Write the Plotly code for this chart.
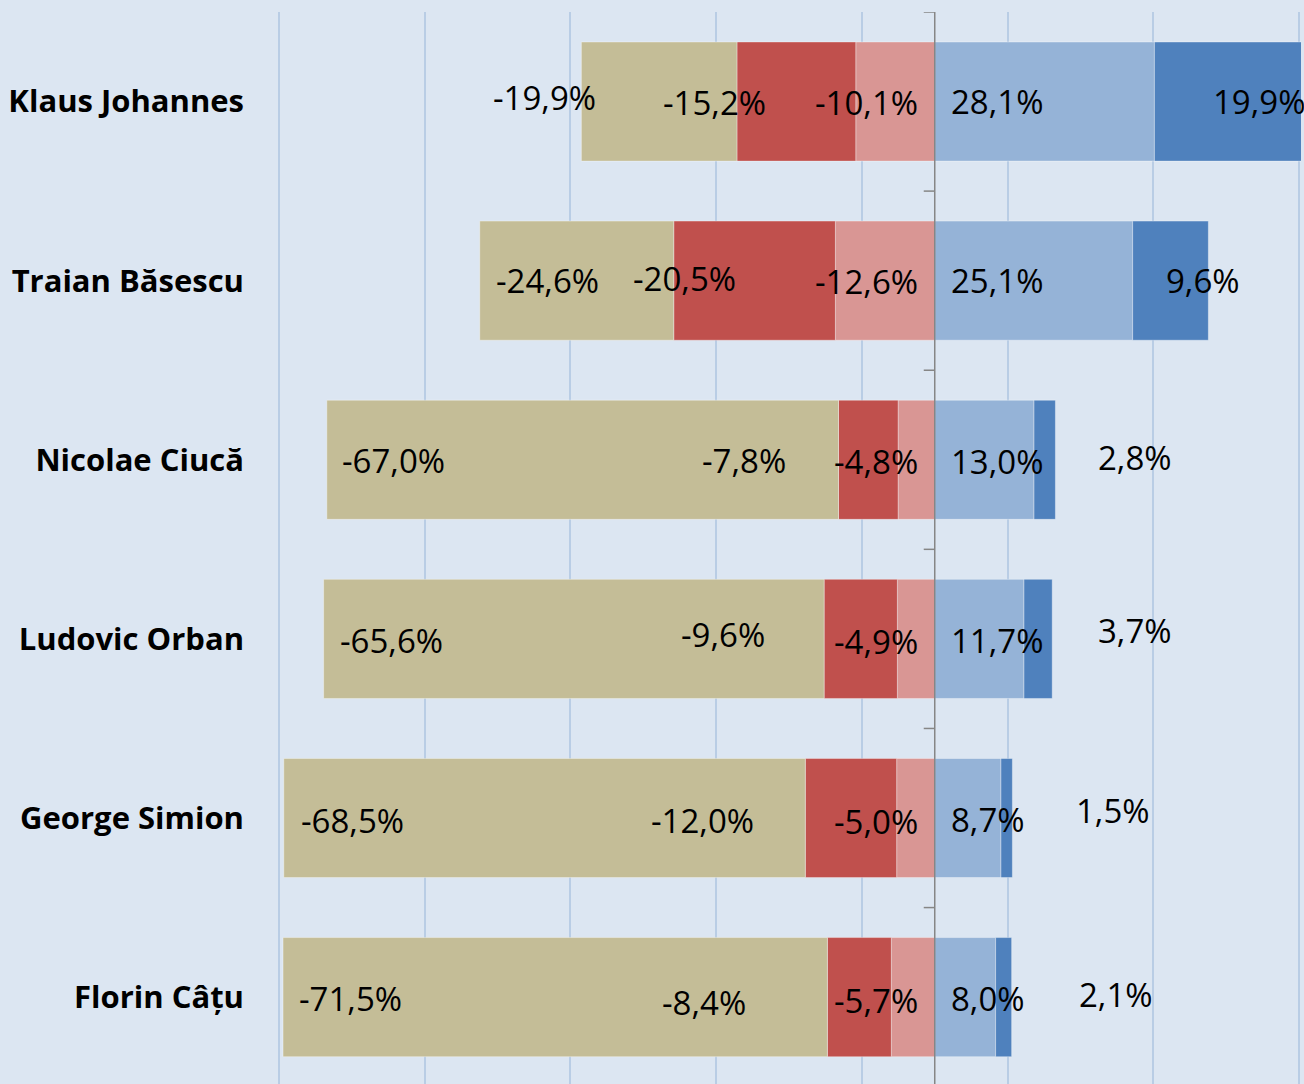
import plotly.graph_objects as go

# ---- data (values as printed on the chart, in %) ----
names = ["Klaus Johannes", "Traian Băsescu", "Nicolae Ciucă",
         "Ludovic Orban", "George Simion", "Florin Câțu"]
very_neg = [19.9, 24.6, 67.0, 65.6, 68.5, 71.5]     # tan
neg = [15.2, 20.5, 7.8, 9.6, 12.0, 8.4]             # red
slightly_neg = [10.1, 12.6, 4.8, 4.9, 5.0, 5.7]     # light red
slightly_pos = [28.1, 25.1, 13.0, 11.7, 8.7, 8.0]   # light blue
very_pos = [19.9, 9.6, 2.8, 3.7, 1.5, 2.1]          # dark blue

# ---- styles ----
BG = "#DCE6F2"
GRID = "#B9CDE5"
AXIS = "#868686"
C_TAN, C_RED, C_LRED, C_LBLUE, C_DBLUE = "#C4BD97", "#C0504D", "#D99694", "#95B3D7", "#4F81BD"
FONT = "Open Sans"
LBL_SIZE = 33

# label placement nudges (pixels) -- layout only
tan_dx = [-90, 14, 13, 14, 15, 14]
red_dx = [-76, -43, -139, -145, -156, -167]
dblue_dx = [57, 31, 62, 72, 73, 81]
tan_dy = [-4, 0, 1, 2, 2.5, 2]
red_dy = [1, -2, 1, -4, 2.5, 6]
lred_dy = [1, 1, 2.5, 3.5, 3.5, 3.5]
lblue_dy = [0.5, 0.5, 2, 2, 1.5, 1.5]
dblue_dy = [0.5, 0.5, -1.5, -7.5, -7.5, -2]

n = len(names)
totals = [very_neg[i] + neg[i] + slightly_neg[i] + slightly_pos[i] + very_pos[i] for i in range(n)]
norm = lambda arr: [arr[i] / totals[i] * 100 for i in range(n)]
vn, ng, sn, sp, vp = norm(very_neg), norm(neg), norm(slightly_neg), norm(slightly_pos), norm(very_pos)
ys = list(range(n))

fig = go.Figure()
line = dict(color="rgba(255,255,255,0.35)", width=1)
for vals, col, sign in [(sn, C_LRED, -1), (ng, C_RED, -1), (vn, C_TAN, -1),
                        (sp, C_LBLUE, 1), (vp, C_DBLUE, 1)]:
    fig.add_trace(go.Bar(y=ys, x=[sign * v for v in vals], orientation="h",
                         marker=dict(color=col, line=line), hoverinfo="skip"))

fmt = lambda v, s: ("-" if s < 0 else "") + f"{v:.1f}".replace(".", ",") + "%"
BASE_DY = 0.5  # text box vs digit-centre correction
anns = []
def add(x, y, text, xanchor, dx, dy):
    anns.append(dict(x=x, y=y, xref="x", yref="y", text=text, showarrow=False,
                     xanchor=xanchor, yanchor="middle", xshift=dx, yshift=-(dy) + BASE_DY,
                     font=dict(family=FONT, size=LBL_SIZE, color="#000000")))

for i in range(n):
    add(0, i, fmt(slightly_neg[i], -1), "right", -15, lred_dy[i])
    add(-(sn[i] + ng[i]), i, fmt(neg[i], -1), "left", red_dx[i], red_dy[i])
    add(-(sn[i] + ng[i] + vn[i]), i, fmt(very_neg[i], -1), "left", tan_dx[i], tan_dy[i])
    add(0, i, fmt(slightly_pos[i], 1), "left", 14, lblue_dy[i])
    add(sp[i], i, fmt(very_pos[i], 1), "left", dblue_dx[i], dblue_dy[i])

# central axis line and category tick marks
shapes = [dict(type="line", xref="x", yref="paper", x0=0, x1=0, y0=0, y1=1,
               line=dict(color=AXIS, width=1.5), layer="above")]
for k in range(n + 1):
    shapes.append(dict(type="line", xref="x", yref="y", xsizemode="pixel", xanchor=0,
                       x0=-11, x1=0, y0=k - 0.5, y1=k - 0.5,
                       line=dict(color=AXIS, width=1.5), layer="above"))

fig.update_layout(
    width=1304, height=1084,
    margin=dict(l=275, r=3, t=12, b=0),
    paper_bgcolor=BG, plot_bgcolor=BG,
    barmode="relative", bargap=0.335, showlegend=False,
    annotations=anns, shapes=shapes,
    xaxis=dict(range=[-90.55, 50.27], tick0=10, dtick=20, showticklabels=False,
               showgrid=True, gridcolor=GRID, gridwidth=1.5, zeroline=False, ticks=""),
    yaxis=dict(range=[n - 0.515, -0.5], tickvals=ys, ticktext=names, showgrid=False,
               zeroline=False, ticks="", ticklabelstandoff=30,
               tickfont=dict(family=FONT, size=31, color="#000000", weight="bold")),
)

fig.write_html("out.html", config={"displayModeBar": False},
               post_script="document.body.style.margin='0';document.body.style.overflow='hidden';")
